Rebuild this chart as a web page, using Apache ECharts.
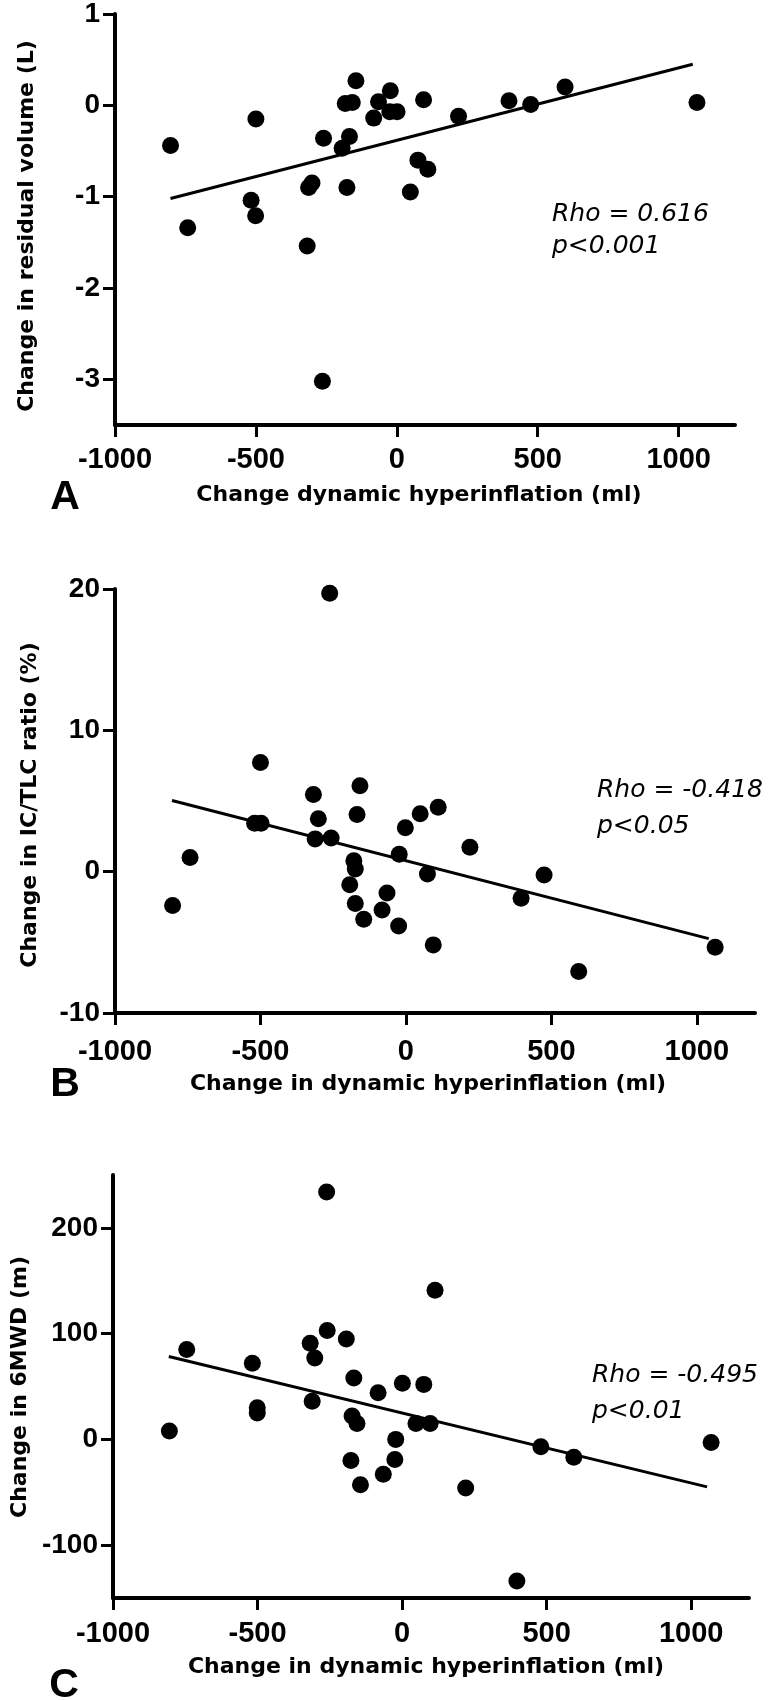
<!DOCTYPE html>
<html>
<head>
<meta charset="utf-8">
<script src="https://cdn.jsdelivr.net/npm/echarts@6/dist/echarts.min.js"></script>
<style>
html,body{margin:0;padding:0;background:#fff;}
#chart{width:771px;height:1700px;}
</style>
</head>
<body>
<div id="chart"></div>
<script>
// ---- Data ----
var xTicks = [-1000, -500, 0, 500, 1000];

// Panel A: change in residual volume (L)
var aX = [-803, -742, -500, -517, -501, -318, -313, -301, -260, -264, -194, -168, -177, -183, -158, -145, -82, -65, -23, -25, 1, 48, 75, 110, 95, 219, 398, 475, 597, 1065];
var aY = [-0.44, -1.34, -0.15, -1.04, -1.21, -1.54, -0.90, -0.85, -0.36, -3.02, -0.47, -0.34, -0.90, 0.02, 0.03, 0.27, -0.14, 0.04, 0.16, -0.07, -0.07, -0.95, -0.60, -0.70, 0.06, -0.12, 0.05, 0.01, 0.20, 0.03];
var aFit = [[-803, -1.02], [1050, 0.45]];
var aTicks = [-3, -2, -1, 0, 1];

// Panel B: change in IC/TLC ratio (%)
var bX = [-802, -742, -500, -520, -498, -318, -301, -312, -257, -262, -158, -168, -179, -174, -193, -174, -145, -65, -82, -23, -25, -2, 49, 111, 74, 94, 220, 396, 475, 594, 1063];
var bY = [-2.39, 1.01, 7.73, 3.43, 3.43, 5.46, 3.74, 2.32, 2.39, 19.7, 6.08, 4.04, 0.78, 0.19, -0.92, -2.25, -3.36, -1.51, -2.72, 1.23, -3.85, 3.10, 4.09, 4.56, -0.16, -5.18, 1.72, -1.88, -0.23, -7.07, -5.35];
var bFit = [[-804, 5.04], [1041, -4.74]];
var bTicks = [-10, 0, 10, 20];

// Panel C: change in 6MWD (m)
var cX = [-805, -745, -518, -501, -501, -318, -302, -259, -311, -193, -167, -173, -156, -177, -144, -83, -22, -25, -65, 1, 75, 48, 97, 220, -261, 114, 397, 480, 594, 1069];
var cY = [8, 85, 72, 30, 25, 91, 77, 103, 36, 95, 58, 22, 15, -20, -43, 44, 0, -19, -33, 53, 52, 15, 15, -46, 234, 141, -134, -7, -17, -3];
var cFit = [[-807, 78.3], [1055, -44.9]];
var cTicks = [-100, 0, 100, 200];

var yTitles = ['Change in residual volume (L)', 'Change in IC/TLC ratio (%)', 'Change in 6MWD (m)'];
var xTitles = ['Change dynamic hyperinflation (ml)', 'Change in dynamic hyperinflation (ml)', 'Change in dynamic hyperinflation (ml)'];
var panelLetters = ['A', 'B', 'C'];
var statLines = [['Rho = 0.616', 'p<0.001'], ['Rho = -0.418', 'p<0.05'], ['Rho = -0.495', 'p<0.01']];

function zip(xs, ys) { return xs.map(function (x, i) { return [x, ys[i]]; }); }

var LAB = '"Liberation Sans", Arial, sans-serif';
var DJ = '"DejaVu Sans", sans-serif';
var xTickSize = 29;
var yTickSize = 28;

var grids = [
  {left: 115, top: 12.5, width: 620, height: 412.5},
  {left: 115, top: 589, width: 640, height: 424},
  {left: 113, top: 1175, width: 636, height: 423}
];
var yRanges = [[-3.5, 1], [-10, 20], [-150, 250]];
var yTickSets = [aTicks, bTicks, cTicks];
var xMargins = [20, 24, 21];

function fmt(v) { return String(v); }

var xAxes = [], yAxes = [];
for (var i = 0; i < 3; i++) {
  xAxes.push({
    type: 'value', gridIndex: i, min: -1000, max: 1200,
    axisLine: {show: true, onZero: false, lineStyle: {color: '#000', width: 4}},
    axisTick: {show: true, length: 12, inside: false, customValues: xTicks, lineStyle: {color: '#000', width: 3}},
    axisLabel: {customValues: xTicks, formatter: fmt, margin: xMargins[i], color: '#000', fontFamily: LAB, fontWeight: 'bold', fontSize: xTickSize},
    splitLine: {show: false}
  });
  yAxes.push({
    type: 'value', gridIndex: i, min: yRanges[i][0], max: yRanges[i][1],
    axisLine: {show: true, onZero: false, lineStyle: {color: '#000', width: 4}},
    axisTick: {show: true, length: 12, inside: false, customValues: yTickSets[i], lineStyle: {color: '#000', width: 3}},
    axisLabel: {customValues: yTickSets[i], formatter: fmt, margin: 15, color: '#000', fontFamily: LAB, fontWeight: 'bold', fontSize: yTickSize},
    splitLine: {show: false}
  });
}

var pts = [zip(aX, aY), zip(bX, bY), zip(cX, cY)];
var fits = [aFit, bFit, cFit];
var series = [];
for (var j = 0; j < 3; j++) {
  series.push({
    type: 'line', xAxisIndex: j, yAxisIndex: j, data: fits[j], symbol: 'none',
    lineStyle: {color: '#000', width: 3}, silent: true, z: 2
  });
  series.push({
    type: 'scatter', xAxisIndex: j, yAxisIndex: j, data: pts[j], symbol: 'circle', symbolSize: 17,
    itemStyle: {color: '#000', opacity: 1}, z: 3
  });
}

// text placement
var yTitlePos = [[27, 226], [30, 805], [20, 1387]];
var xTitlePos = [[419, 495], [428, 1084], [426, 1667]];
var letterPos = [[65, 498], [65, 1085], [64, 1686]];
var statPos = [[552, 214, 246], [597, 790, 826], [592, 1375, 1411]];

var graphic = [];
for (var k = 0; k < 3; k++) {
  graphic.push({type: 'text', x: yTitlePos[k][0], y: yTitlePos[k][1], rotation: Math.PI / 2,
    style: {text: yTitles[k], fill: '#000', fontFamily: DJ, fontWeight: 'bold', fontSize: 22, align: 'center', verticalAlign: 'middle'}});
  graphic.push({type: 'text', x: xTitlePos[k][0], y: xTitlePos[k][1],
    style: {text: xTitles[k], fill: '#000', fontFamily: DJ, fontWeight: 'bold', fontSize: 22, align: 'center', verticalAlign: 'middle'}});
  graphic.push({type: 'text', x: letterPos[k][0], y: letterPos[k][1],
    style: {text: panelLetters[k], fill: '#000', fontFamily: LAB, fontWeight: 'bold', fontSize: 41, align: 'center', verticalAlign: 'middle'}});
  graphic.push({type: 'text', x: statPos[k][0], y: statPos[k][1],
    style: {text: statLines[k][0], fill: '#000', fontFamily: DJ, fontStyle: 'italic', fontSize: 25, align: 'left', verticalAlign: 'middle'}});
  graphic.push({type: 'text', x: statPos[k][0], y: statPos[k][2],
    style: {text: statLines[k][1], fill: '#000', fontFamily: DJ, fontStyle: 'italic', fontSize: 25, align: 'left', verticalAlign: 'middle'}});
}

var chart = echarts.init(document.getElementById('chart'), null, {renderer: 'canvas'});
chart.setOption({
  animation: false,
  backgroundColor: '#fff',
  grid: grids,
  xAxis: xAxes,
  yAxis: yAxes,
  series: series,
  graphic: graphic
});
</script>
</body>
</html>
